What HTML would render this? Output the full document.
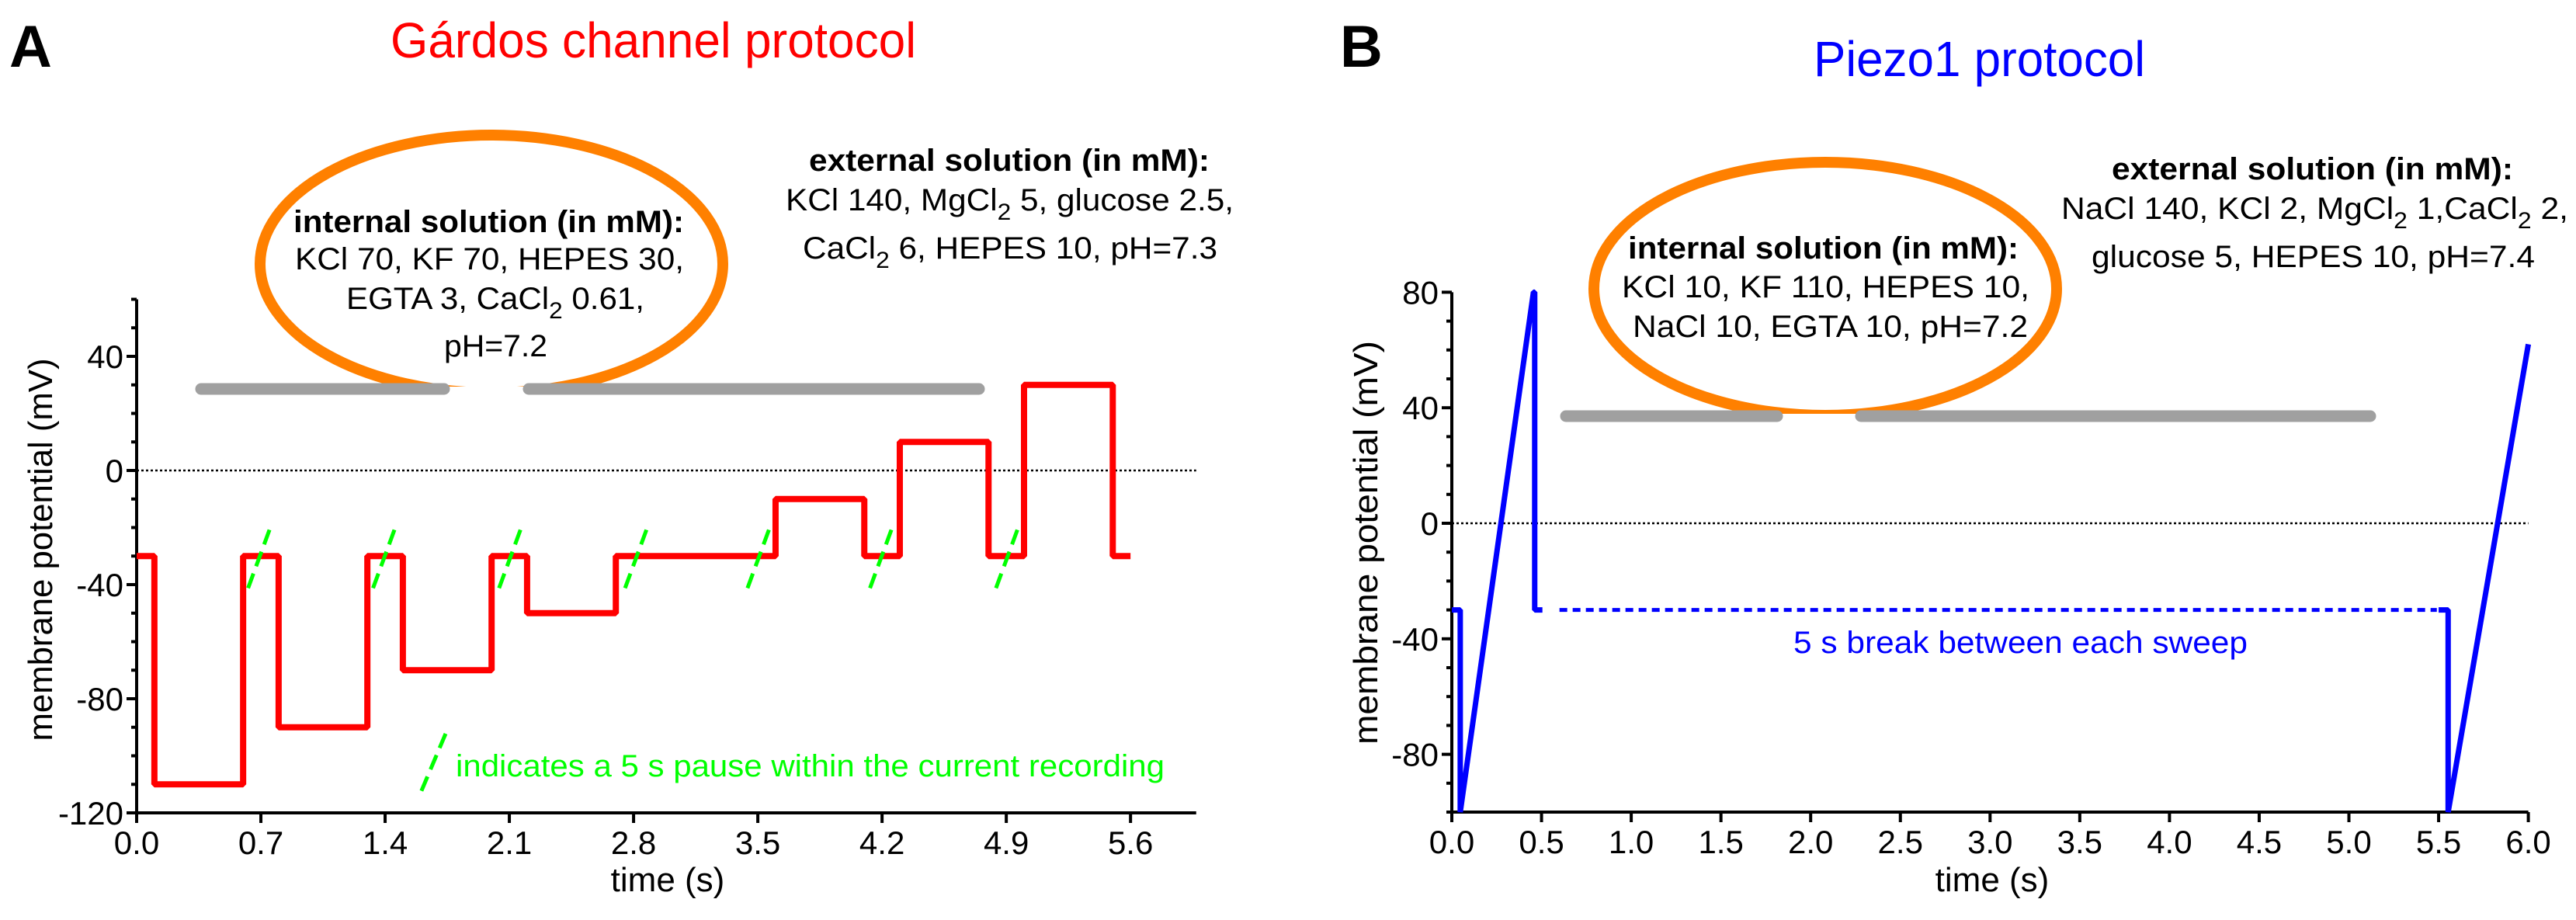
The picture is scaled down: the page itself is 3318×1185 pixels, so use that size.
<!DOCTYPE html>
<html><head><meta charset="utf-8"><style>
html,body{margin:0;padding:0;background:#fff;}
svg{display:block;font-family:"Liberation Sans",Arial,sans-serif;}
</style></head><body>
<svg id="fig" width="3318" height="1185" viewBox="0 0 3318 1185" xmlns="http://www.w3.org/2000/svg">
<defs>
<clipPath id="clipA"><rect x="0" y="0" width="1600" height="498"/></clipPath>
<clipPath id="clipB"><rect x="1700" y="0" width="1618" height="533"/></clipPath>
</defs>
<!-- Panel A static -->
<text x="12" y="86" font-size="76" font-weight="bold">A</text>
<text x="503" y="74" font-size="64" fill="#ff0000" textLength="677" lengthAdjust="spacingAndGlyphs">Gárdos channel protocol</text>
<ellipse cx="633" cy="340" rx="298" ry="166" fill="none" stroke="#ff8000" stroke-width="14" clip-path="url(#clipA)"/>
<line x1="259" y1="501" x2="572" y2="501" stroke="#a0a0a0" stroke-width="15" stroke-linecap="round"/>
<line x1="681" y1="501" x2="1261" y2="501" stroke="#a0a0a0" stroke-width="15" stroke-linecap="round"/>
<g font-size="40">
<text x="378" y="299" font-weight="bold" textLength="503" lengthAdjust="spacingAndGlyphs">internal solution (in mM):</text>
<text x="380" y="347" textLength="501" lengthAdjust="spacingAndGlyphs">KCl 70, KF 70, HEPES 30,</text>
<text x="446" y="398" textLength="384" lengthAdjust="spacingAndGlyphs">EGTA 3, CaCl<tspan dy="12" font-size="30">2</tspan><tspan dy="-12"> 0.61,</tspan></text>
<text x="572" y="459" textLength="133" lengthAdjust="spacingAndGlyphs">pH=7.2</text>
</g>
<g font-size="40">
<text x="1042" y="220" font-weight="bold" textLength="516" lengthAdjust="spacingAndGlyphs">external solution (in mM):</text>
<text x="1012" y="271" textLength="577" lengthAdjust="spacingAndGlyphs">KCl 140, MgCl<tspan dy="12" font-size="30">2</tspan><tspan dy="-12"> 5, glucose 2.5,</tspan></text>
<text x="1034" y="333" textLength="534" lengthAdjust="spacingAndGlyphs">CaCl<tspan dy="12" font-size="30">2</tspan><tspan dy="-12"> 6, HEPES 10, pH=7.3</tspan></text>
</g>
<line x1="574" y1="945" x2="541" y2="1023" stroke="#00ff00" stroke-width="5" stroke-dasharray="20 10"/>
<text x="587" y="1000" font-size="40" fill="#00ff00" textLength="913" lengthAdjust="spacingAndGlyphs">indicates a 5 s pause within the current recording</text>
<text transform="translate(67,708) rotate(-90)" text-anchor="middle" font-size="44" textLength="493" lengthAdjust="spacingAndGlyphs">membrane potential (mV)</text>
<text x="860" y="1148" text-anchor="middle" font-size="44">time (s)</text>
<g id="gA"></g>
<!-- Panel B static -->
<text x="1726" y="86" font-size="76" font-weight="bold">B</text>
<text x="2336" y="98" font-size="64" fill="#0000ff" textLength="427" lengthAdjust="spacingAndGlyphs">Piezo1 protocol</text>
<ellipse cx="2351" cy="372" rx="298" ry="163" fill="none" stroke="#ff8000" stroke-width="14" clip-path="url(#clipB)"/>
<line x1="2017" y1="536" x2="2289" y2="536" stroke="#a0a0a0" stroke-width="15" stroke-linecap="round"/>
<line x1="2397" y1="536" x2="3053" y2="536" stroke="#a0a0a0" stroke-width="15" stroke-linecap="round"/>
<g font-size="40">
<text x="2097" y="333" font-weight="bold" textLength="503" lengthAdjust="spacingAndGlyphs">internal solution (in mM):</text>
<text x="2089" y="383" textLength="525" lengthAdjust="spacingAndGlyphs">KCl 10, KF 110, HEPES 10,</text>
<text x="2103" y="434" textLength="509" lengthAdjust="spacingAndGlyphs">NaCl 10, EGTA 10, pH=7.2</text>
</g>
<g font-size="40">
<text x="2720" y="231" font-weight="bold" textLength="517" lengthAdjust="spacingAndGlyphs">external solution (in mM):</text>
<text x="2655" y="282" textLength="653" lengthAdjust="spacingAndGlyphs">NaCl 140, KCl 2, MgCl<tspan dy="12" font-size="30">2</tspan><tspan dy="-12"> 1,CaCl</tspan><tspan dy="12" font-size="30">2</tspan><tspan dy="-12"> 2,</tspan></text>
<text x="2694" y="344" textLength="571" lengthAdjust="spacingAndGlyphs">glucose 5, HEPES 10, pH=7.4</text>
</g>
<text x="2310" y="841" font-size="40" fill="#0000ff" textLength="585" lengthAdjust="spacingAndGlyphs">5 s break between each sweep</text>
<text transform="translate(1774,699) rotate(-90)" text-anchor="middle" font-size="44" textLength="520" lengthAdjust="spacingAndGlyphs">membrane potential (mV)</text>
<text x="2566" y="1148" text-anchor="middle" font-size="44">time (s)</text>
<g id="gB"></g>
</svg>
<script>
// ---- Panel A data ----
const stepTimesA = [0, 0.1, 0.6, 0.8, 1.3, 1.5, 2.0, 2.2, 2.7, 3.6, 4.1, 4.3, 4.8, 5.0, 5.5, 5.6];
const stepLevelsA = [-30, -110, -30, -90, -30, -70, -30, -50, -30, -10, -30, 10, -30, 30, -30];
const pauseTimesA = [0.686, 1.39, 2.10, 2.81, 3.50, 4.19, 4.90];
const pauseSpanA = [-42, -20.8];
const xTicksA = [0, 0.7, 1.4, 2.1, 2.8, 3.5, 4.2, 4.9, 5.6];
const xTickLabelsA = ["0.0", "0.7", "1.4", "2.1", "2.8", "3.5", "4.2", "4.9", "5.6"];
const yTicksA = [-120, -80, -40, 0, 40];
const yTickLabelsA = ["-120", "-80", "-40", "0", "40"];
const yDomainA = [-120, 60];
const xMaxA = 5.97;
// ---- Panel B data ----
const sweep1TimesB = [0, 0.047, 0.047, 0.455, 0.462, 0.462, 0.505];
const sweep1ValuesB = [-30, -30, -100, 80, 80, -30, -30];
const sweep2TimesB = [5.50, 5.553, 5.553, 6.0];
const sweep2ValuesB = [-30, -30, -100, 62];
const breakTimesB = [0.6, 5.49];
const breakLevelB = -30;
const xTicksB = [0, 0.5, 1, 1.5, 2, 2.5, 3, 3.5, 4, 4.5, 5, 5.5, 6];
const xTickLabelsB = ["0.0","0.5","1.0","1.5","2.0","2.5","3.0","3.5","4.0","4.5","5.0","5.5","6.0"];
const yTicksB = [-80, -40, 0, 40, 80];
const yTickLabelsB = ["-80", "-40", "0", "40", "80"];
const yDomainB = [-100, 80];
const xMaxB = 6.0;

const NS = "http://www.w3.org/2000/svg";
function mk(parent, tag, attrs) {
  const e = document.createElementNS(NS, tag);
  for (const k in attrs) e.setAttribute(k, attrs[k]);
  parent.appendChild(e);
  return e;
}
const xA = t => 176 + t * 228.6;
const yA = v => 1047 - (v + 120) * 3.675;
const xB = t => 1870 + t * 231.1;
const yB = v => 1046 - (v + 100) * 3.72;

function drawAxes(g, xs, ys, xTicks, xLabels, yTicks, yLabels, yDom, xMax, minorX, tag) {
  const x0 = xs(0), yb = ys(yDom[0]);
  let e;
  e = mk(g, "line", {x1: x0, y1: ys(yDom[1]), x2: x0, y2: yb + 2, stroke: "#000", "stroke-width": 4});
  
  
  e = mk(g, "line", {x1: x0 - 2, y1: yb, x2: xs(xMax), y2: yb, stroke: "#000", "stroke-width": 4});
  
  
  e = mk(g, "line", {x1: x0, y1: ys(0), x2: xs(xMax), y2: ys(0), stroke: "#000", "stroke-width": 2.5, "stroke-dasharray": "3 3"});
  
  
  for (let v = yDom[0]; v <= yDom[1]; v += 10) {
    const major = yTicks.indexOf(v) >= 0;
    e = mk(g, "line", {x1: x0 - (major ? 13 : 7), y1: ys(v), x2: x0, y2: ys(v), stroke: "#000", "stroke-width": 4});
    
    
  }
  yTicks.forEach((v, i) => {
    e = mk(g, "text", {x: x0 - 17, y: ys(v) + 15, "text-anchor": "end", "font-size": 42});
    e.textContent = yLabels[i];
    
    
  });
  xTicks.forEach((t, i) => {
    e = mk(g, "line", {x1: xs(t), y1: yb, x2: xs(t), y2: yb + 13, stroke: "#000", "stroke-width": 4});
    
    
    e = mk(g, "text", {x: xs(t), y: yb + 53, "text-anchor": "middle", "font-size": 42});
    e.textContent = xLabels[i];
    
    
  });
}

const gA = document.getElementById("gA");
drawAxes(gA, xA, yA, xTicksA, xTickLabelsA, yTicksA, yTickLabelsA, yDomainA, xMaxA, 0, "a");
let d = "";
stepLevelsA.forEach((v, i) => {
  d += (i === 0 ? "M" : "L") + xA(stepTimesA[i]) + "," + yA(v) + " L" + xA(stepTimesA[i + 1]) + "," + yA(v) + " ";
});
let trA = mk(gA, "path", {d: d, fill: "none", stroke: "#ff0000", "stroke-width": 8, "stroke-linejoin": "bevel"});


pauseTimesA.forEach(t => {
  const e = mk(gA, "line", {x1: xA(t + 0.0625), y1: yA(pauseSpanA[1]), x2: xA(t - 0.0625), y2: yA(pauseSpanA[0]), stroke: "#00ff00", "stroke-width": 5, "stroke-dasharray": "20 10"});
  
  
});

const gB = document.getElementById("gB");
drawAxes(gB, xB, yB, xTicksB, xTickLabelsB, yTicksB, yTickLabelsB, yDomainB, xMaxB, 0, "b");
function poly(ts, vs) { return ts.map((t, i) => (i ? "L" : "M") + xB(t) + "," + yB(vs[i])).join(" "); }
let s1 = mk(gB, "path", {d: poly(sweep1TimesB, sweep1ValuesB), fill: "none", stroke: "#0000ff", "stroke-width": 7, "stroke-linejoin": "bevel"});


let s2 = mk(gB, "path", {d: poly(sweep2TimesB, sweep2ValuesB), fill: "none", stroke: "#0000ff", "stroke-width": 7, "stroke-linejoin": "bevel"});


let br = mk(gB, "line", {x1: xB(breakTimesB[0]), y1: yB(breakLevelB), x2: xB(breakTimesB[1]), y2: yB(breakLevelB), stroke: "#0000ff", "stroke-width": 5, "stroke-dasharray": "10 7"});


</script>
</body></html>
